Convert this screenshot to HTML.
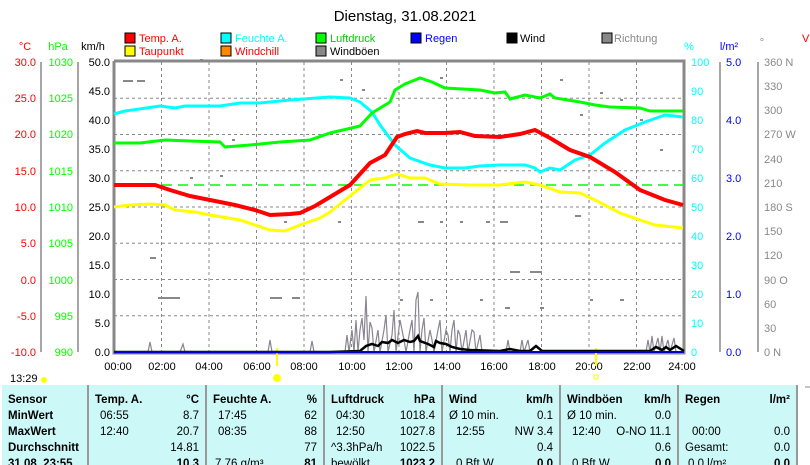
<!DOCTYPE html>
<html><head><meta charset="utf-8"><style>
body{margin:0;background:#fff;width:810px;height:465px;overflow:hidden}
svg{display:block;font-family:"Liberation Sans",Arial,sans-serif}
</style></head><body>
<svg width="810" height="465" viewBox="0 0 810 465" xmlns="http://www.w3.org/2000/svg">
<text x="405" y="21" font-size="15" text-anchor="middle">Dienstag, 31.08.2021</text>
<!-- legend -->
<g font-size="11">
<rect x="125" y="33" width="10" height="10" fill="#f00" stroke="#000"/><text x="139" y="42" fill="#f00">Temp. A.</text>
<rect x="125" y="46" width="10" height="10" fill="#ff0" stroke="#000"/><text x="139" y="55" fill="#f00">Taupunkt</text>
<rect x="221" y="33" width="10" height="10" fill="#0ff" stroke="#000"/><text x="235" y="42" fill="#0ff">Feuchte A.</text>
<rect x="221" y="46" width="10" height="10" fill="#f80" stroke="#000"/><text x="235" y="55" fill="#f00">Windchill</text>
<rect x="316" y="33" width="10" height="10" fill="#0f0" stroke="#000"/><text x="330" y="42" fill="#0c0">Luftdruck</text>
<rect x="316" y="46" width="10" height="10" fill="#888" stroke="#000"/><text x="330" y="55">Windböen</text>
<rect x="411" y="33" width="10" height="10" fill="#00f" stroke="#000"/><text x="425" y="42" fill="#00f">Regen</text>
<rect x="507" y="33" width="10" height="10" fill="#000" stroke="#000"/><text x="520" y="42">Wind</text>
<rect x="602" y="33" width="10" height="10" fill="#888" stroke="#000"/><text x="614" y="42" fill="#888">Richtung</text>
<text x="25" y="50" fill="#f00" text-anchor="middle">°C</text>
<text x="58" y="50" fill="#0f0" text-anchor="middle">hPa</text>
<text x="93" y="50" text-anchor="middle">km/h</text>
<text x="689" y="50" fill="#0ff" text-anchor="middle">%</text>
<text x="729" y="50" fill="#00f" text-anchor="middle">l/m²</text>
<text x="762" y="46" fill="#888" text-anchor="middle">°</text>
<text x="802" y="42" fill="#f00">V</text>
</g>
<!-- grid -->
<g stroke="#888" stroke-dasharray="3,3" stroke-width="1">
<path d="M114 98.25H684M114 134.5H684M114 170.75H684M114 207H684M114 243.25H684M114 279.5H684M114 315.75H684"/>
<path d="M161.5 62V352M209 62V352M256.5 62V352M304 62V352M351.5 62V352M399 62V352M446.5 62V352M494 62V352M541.5 62V352M589 62V352M636.5 62V352"/>
</g>
<!-- axes -->
<g stroke="#888" stroke-width="1.5" fill="none">
<path d="M41 62V352M78 62V352M720 62V352M758 62V352"/>
<path d="M114 61V353H684V61H114" stroke-width="3"/>
</g>
<g font-size="11">
<g fill="#f00" text-anchor="end">
<text x="36" y="66">30.0</text><text x="36" y="102">25.0</text><text x="36" y="138">20.0</text><text x="36" y="175">15.0</text><text x="36" y="211">10.0</text><text x="36" y="247">5.0</text><text x="36" y="284">0.0</text><text x="36" y="320">-5.0</text><text x="36" y="356">-10.0</text>
</g>
<g fill="#0f0" text-anchor="end">
<text x="73" y="66">1030</text><text x="73" y="102">1025</text><text x="73" y="138">1020</text><text x="73" y="175">1015</text><text x="73" y="211">1010</text><text x="73" y="247">1005</text><text x="73" y="284">1000</text><text x="73" y="320">995</text><text x="73" y="356">990</text>
</g>
<g text-anchor="end">
<text x="110" y="66">50.0</text><text x="110" y="95">45.0</text><text x="110" y="124">40.0</text><text x="110" y="153">35.0</text><text x="110" y="182">30.0</text><text x="110" y="211">25.0</text><text x="110" y="240">20.0</text><text x="110" y="269">15.0</text><text x="110" y="298">10.0</text><text x="110" y="327">5.0</text><text x="110" y="356">0.0</text>
</g>
<g fill="#0ff">
<text x="691" y="66">100</text><text x="691" y="95">90</text><text x="691" y="124">80</text><text x="691" y="153">70</text><text x="691" y="182">60</text><text x="691" y="211">50</text><text x="691" y="240">40</text><text x="691" y="269">30</text><text x="691" y="298">20</text><text x="691" y="327">10</text><text x="691" y="356">0</text>
</g>
<g fill="#00f">
<text x="726" y="66">5.0</text><text x="726" y="124">4.0</text><text x="726" y="182">3.0</text><text x="726" y="240">2.0</text><text x="726" y="298">1.0</text><text x="726" y="356">0.0</text>
</g>
<g fill="#888">
<text x="764" y="66">360 N</text><text x="764" y="90">330</text><text x="764" y="114">300</text><text x="764" y="138">270 W</text><text x="764" y="163">240</text><text x="764" y="187">210</text><text x="764" y="211">180 S</text><text x="764" y="235">150</text><text x="764" y="259">120</text><text x="764" y="284">90  O</text><text x="764" y="308">60</text><text x="764" y="332">30</text><text x="764" y="356">0    N</text>
</g>
<g text-anchor="middle">
<text x="118" y="370">00:00</text><text x="162" y="370">02:00</text><text x="209" y="370">04:00</text><text x="257" y="370">06:00</text><text x="304" y="370">08:00</text><text x="352" y="370">10:00</text><text x="399" y="370">12:00</text><text x="447" y="370">14:00</text><text x="494" y="370">16:00</text><text x="542" y="370">18:00</text><text x="589" y="370">20:00</text><text x="637" y="370">22:00</text><text x="682" y="370">24:00</text>
</g>
<text x="10" y="382">13:29</text>
</g>
<circle cx="44" cy="380" r="3" fill="#ff0"/>
<circle cx="277" cy="378" r="4" fill="#ff0"/>
<rect x="594" y="375" width="4" height="4" fill="none" stroke="#ff0"/>
<path d="M277 348V366M596 348V366" stroke="#ff0" stroke-width="2"/>
<!-- scattered direction dashes -->
<g stroke="#888" stroke-width="2">
<path d="M123 81h10M137 81h8M158 298h22M150 258h6M270 298h12M292 298h8M338 222h3M284 222h3M510 272h10M530 272h12M400 300h3M430 300h3M480 300h3M505 308h5M540 308h4M590 300h3M620 300h4M418 222h6M440 222h3M460 222h3M486 222h4M500 222h8M575 216h6M190 178h3M220 176h3M232 140h3M580 115h3M600 93h3M620 100h3M640 120h3M660 150h3M340 80h3M362 90h3M440 78h3M560 80h3M200 60h3"/>
</g>
<!-- gusts -->
<polyline fill="none" stroke="#8a8590" stroke-width="1.2" points="148,352 150,342 152,352 180,352 183,344 185,352 268,352 270,340 272,352 310,352 312,341 314,352 345,352 347,335 349,352 352,330 354,352 356,320 358,352 360,330 362,318 364,340 366,296 368,352 370,322 372,328 374,352 378,330 380,352 384,330 386,315 388,352 392,335 394,310 396,352 400,320 402,330 404,340 406,352 410,330 412,320 414,352 416,300 418,292 420,352 422,330 424,318 426,352 430,330 432,340 434,352 438,330 440,320 442,352 446,330 448,335 450,352 452,330 454,320 456,352 458,330 460,335 462,352 466,330 468,352 472,330 474,332 476,352 480,335 482,352 506,352 508,340 510,352 520,352 522,340 524,352 528,340 530,352 646,352 648,340 650,352 652,336 654,352 658,338 660,352 662,336 664,352 668,340 670,352 674,338 676,352"/>
<!-- wind -->
<polyline fill="none" stroke="#000" stroke-width="2.5" points="114,352 330,352 360,351 366,346 372,344 378,346 382,342 388,343 392,340 398,343 404,340 410,342 414,341 418,336 420,341 428,344 434,347 436,341 440,343 446,344 452,347 460,349 470,350 500,351 510,349 520,351 530,351 536,346 542,351 650,351 656,347 662,350 666,347 670,350 676,346 684,351"/>
<path d="M114 352H684" stroke="#00c" stroke-width="2"/>
<!-- dashed green -->
<path d="M114 185H684" stroke="#0f0" stroke-width="1.5" stroke-dasharray="10,6"/>
<!-- humidity -->
<polyline fill="none" stroke="#0ff" stroke-width="3" points="114,114 125,111 160,106 175,108 185,106 220,106 240,103 260,103 290,100 330,97 350,98 360,102 372,112 380,125 395,145 410,158 430,165 445,168 465,168 480,166 500,165 525,165 535,168 540,172 550,168 560,170 575,160 590,155 605,143 625,130 645,122 665,115 683,117"/>
<!-- pressure -->
<polyline fill="none" stroke="#0f0" stroke-width="3" points="114,143 140,143 165,140 190,141 220,142 225,147 250,145 280,142 310,140 330,133 360,126 372,113 390,102 395,90 405,84 420,78 432,82 445,88 480,90 495,93 505,92 510,99 525,95 540,98 550,94 555,98 580,102 595,105 610,107 640,108 650,111 683,111"/>
<!-- dewpoint -->
<polyline fill="none" stroke="#ff0" stroke-width="3" points="114,207 130,205 150,204 165,205 175,210 195,212 210,215 240,220 270,230 285,231 300,225 320,218 330,212 345,200 370,180 385,178 397,174 410,178 425,178 440,184 470,185 500,185 525,182 540,185 560,192 580,193 595,200 620,213 640,220 655,225 683,228"/>
<!-- temp -->
<polyline fill="none" stroke="#f00" stroke-width="4" points="114,185 155,185 170,190 190,196 210,200 235,205 255,210 270,215 290,214 300,213 315,206 330,197 350,185 370,163 385,155 397,137 405,134 417,131 425,133 445,133 460,132 475,136 500,137 520,134 535,130 550,138 570,150 590,157 615,172 640,190 665,200 683,205"/>
<!-- table -->
<rect x="2" y="385" width="795" height="80" fill="#ccf8f8"/>
<path d="M88 385V465M206 385V465M324 385V465M442 385V465M560 385V465M678 385V465M797 385V465" stroke="#999" stroke-width="2"/>
<path d="M805 387h5" stroke="#888"/>
<g font-size="11.5">
<g font-weight="bold">
<text x="8" y="403">Sensor</text><text x="8" y="419">MinWert</text><text x="8" y="435">MaxWert</text><text x="8" y="451">Durchschnitt</text><text x="8" y="467">31.08. 23:55</text>
<text x="95" y="403">Temp. A.</text><text x="199" y="403" text-anchor="end">°C</text>
<text x="213" y="403">Feuchte A.</text><text x="317" y="403" text-anchor="end">%</text>
<text x="331" y="403">Luftdruck</text><text x="435" y="403" text-anchor="end">hPa</text>
<text x="449" y="403">Wind</text><text x="553" y="403" text-anchor="end">km/h</text>
<text x="567" y="403">Windböen</text><text x="671" y="403" text-anchor="end">km/h</text>
<text x="685" y="403">Regen</text><text x="790" y="403" text-anchor="end">l/m²</text>
<text x="199" y="467" text-anchor="end">10.3</text><text x="317" y="467" text-anchor="end">81</text><text x="435" y="467" text-anchor="end">1023.2</text><text x="553" y="467" text-anchor="end">0.0</text><text x="671" y="467" text-anchor="end">0.0</text><text x="790" y="467" text-anchor="end">0.0</text>
</g>
<text x="100" y="419">06:55</text><text x="199" y="419" text-anchor="end">8.7</text>
<text x="100" y="435">12:40</text><text x="199" y="435" text-anchor="end">20.7</text>
<text x="199" y="451" text-anchor="end">14.81</text>
<text x="218" y="419">17:45</text><text x="317" y="419" text-anchor="end">62</text>
<text x="218" y="435">08:35</text><text x="317" y="435" text-anchor="end">88</text>
<text x="317" y="451" text-anchor="end">77</text><text x="215" y="467">7.76 g/m³</text>
<text x="336" y="419">04:30</text><text x="435" y="419" text-anchor="end">1018.4</text>
<text x="336" y="435">12:50</text><text x="435" y="435" text-anchor="end">1027.8</text>
<text x="331" y="451">^3.3hPa/h</text><text x="435" y="451" text-anchor="end">1022.5</text><text x="331" y="467">bewölkt</text>
<text x="449" y="419">Ø 10 min.</text><text x="553" y="419" text-anchor="end">0.1</text>
<text x="456" y="435">12:55</text><text x="553" y="435" text-anchor="end">NW 3.4</text>
<text x="553" y="451" text-anchor="end">0.4</text><text x="456" y="467">0 Bft W</text>
<text x="567" y="419">Ø 10 min.</text><text x="671" y="419" text-anchor="end">0.0</text>
<text x="572" y="435">12:40</text><text x="671" y="435" text-anchor="end">O-NO 11.1</text>
<text x="671" y="451" text-anchor="end">0.6</text><text x="572" y="467">0 Bft W</text>
<text x="692" y="435">00:00</text><text x="790" y="435" text-anchor="end">0.0</text>
<text x="685" y="451">Gesamt:</text><text x="790" y="451" text-anchor="end">0.0</text><text x="688" y="467">0.0 l/m²</text>
</g>
</svg>
</body></html>
